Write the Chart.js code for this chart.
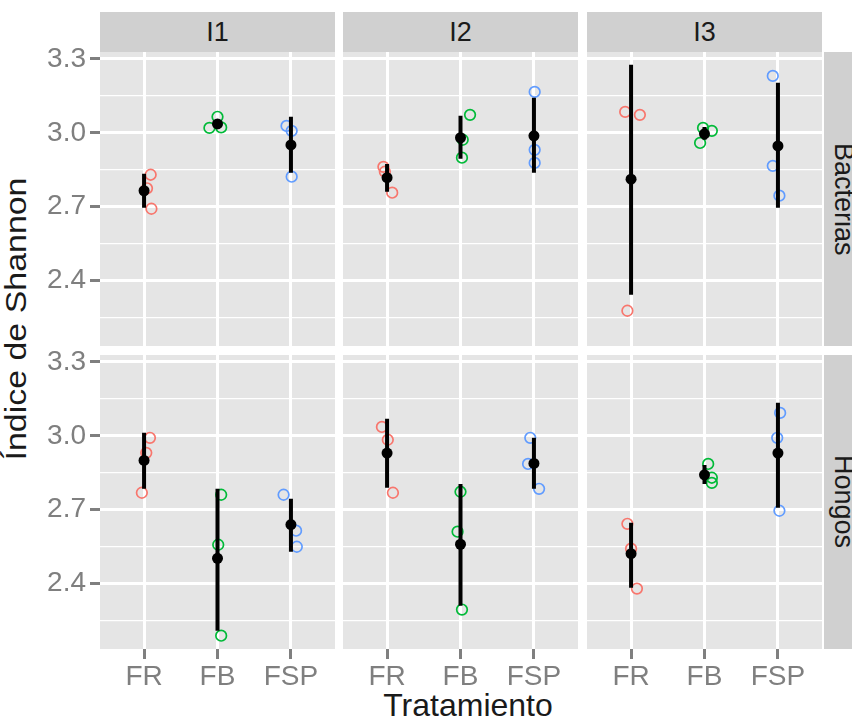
<!DOCTYPE html>
<html>
<head>
<meta charset="utf-8">
<script src="https://cdn.jsdelivr.net/npm/chart.js@4.4.1/dist/chart.umd.min.js"></script>
<style>
	body { margin: 0; width: 852px; height: 719px; background: #fff; overflow: hidden; position: relative; font-family: 'Liberation Sans', Arial, sans-serif; }
	canvas { position: absolute; }
	.tira { position: absolute; background: #D0D0D0; color: #1A1A1A; font-size: 27px; display: flex; align-items: center; justify-content: center; }
	.tira.lado { writing-mode: vertical-rl; }
	.titulo { position: absolute; color: #1A1A1A; white-space: nowrap; line-height: 32px; }
</style>
</head>
<body>

<script>

var columnas = ['I1', 'I2', 'I3'];
var filas = ['Bacterias', 'Hongos'];
var tratamientos = ['FR', 'FB', 'FSP'];
var coloresTrat = ['#F8766D', '#00BA38', '#619CFF'];
var yMayores = [2.4, 2.7, 3.0, 3.3];
var yMenores = [2.25, 2.55, 2.85, 3.15];

// observaciones, [columna][tratamiento][repeticion]
var obsBacterias = [
	[[2.830, 2.775, 2.692], [3.065, 3.020, 3.022], [3.028, 3.008, 2.822]],
	[[2.862, 2.842, 2.757], [3.073, 2.972, 2.899], [3.166, 2.931, 2.878]],
	[[3.085, 3.073, 2.278], [3.020, 3.008, 2.959], [3.231, 2.866, 2.745]]
];
var obsHongos = [
	[[2.992, 2.931, 2.769], [2.761, 2.558, 2.189], [2.761, 2.615, 2.550]],
	[[3.036, 2.984, 2.769], [2.773, 2.611, 2.295], [2.992, 2.886, 2.785]],
	[[2.643, 2.542, 2.380], [2.886, 2.830, 2.809], [3.093, 2.992, 2.696]]
];
// desplazamiento horizontal (jitter) de cada observacion
var jitterBacterias = [
	[[0.09, 0.04, 0.10], [0.00, -0.11, 0.05], [-0.06, 0.01, 0.01]],
	[[-0.05, -0.03, 0.07], [0.13, 0.03, 0.02], [0.01, 0.01, 0.01]],
	[[-0.08, 0.12, -0.05], [-0.02, 0.10, -0.06], [-0.07, -0.07, 0.02]]
];
var jitterHongos = [
	[[0.08, 0.03, -0.03], [0.05, 0.01, 0.05], [-0.10, 0.07, 0.08]],
	[[-0.07, 0.01, 0.08], [0.00, -0.04, 0.02], [-0.05, -0.08, 0.07]],
	[[-0.05, 0.00, 0.08], [0.05, 0.10, 0.10], [0.03, -0.01, 0.02]]
];
// media y barra (inferior / superior), [columna][tratamiento]
var mediaBacterias = [[2.765, 3.036, 2.951], [2.818, 2.980, 2.988], [2.812, 2.996, 2.947]];
var infBacterias = [[2.696, 3.020, 2.838], [2.761, 2.895, 2.838], [2.343, 2.972, 2.696]];
var supBacterias = [[2.834, 3.052, 3.065], [2.874, 3.069, 3.142], [3.276, 3.024, 3.203]];
var mediaHongos = [[2.900, 2.503, 2.640], [2.930, 2.560, 2.888], [2.522, 2.842, 2.930]];
var infHongos = [[2.785, 2.209, 2.530], [2.789, 2.311, 2.785], [2.384, 2.805, 2.708]];
var supHongos = [[3.012, 2.785, 2.745], [3.069, 2.805, 2.992], [2.647, 2.882, 3.134]];

var yMin = 2.135, yMax = 3.328;

// maquetacion de los paneles
var panelX = [100, 343, 587];
var panelY = [52, 355];
var panelW = 235, panelH = 294;
var M = 20, EY = 60, EX = 45;
var fuente = "'Liberation Sans', Arial, sans-serif";

var fondoPanel = {
	id: 'fondoPanel',
	beforeDraw: function(chart){
		var a = chart.chartArea;
		chart.ctx.save();
		chart.ctx.fillStyle = '#E5E5E5';
		chart.ctx.fillRect(a.left, a.top, a.right - a.left, a.bottom - a.top);
		chart.ctx.restore();
	}
};

function esMayor(v){
	return yMayores.indexOf(v) >= 0;
}

function init_panel(r, c){

	var obs = r === 0 ? obsBacterias : obsHongos;
	var jit = r === 0 ? jitterBacterias : jitterHongos;
	var media = r === 0 ? mediaBacterias : mediaHongos;
	var inf = r === 0 ? infBacterias : infHongos;
	var sup = r === 0 ? supBacterias : supHongos;

	var canvas = document.createElement('canvas');
	var w = panelW + 2 * M + (c === 0 ? EY : 0);
	var h = panelH + 2 * M + (r === 1 ? EX : 0);
	canvas.width = w;
	canvas.height = h;
	canvas.style.left = (panelX[c] - M - (c === 0 ? EY : 0)) + 'px';
	canvas.style.top = (panelY[r] - M) + 'px';
	canvas.style.width = w + 'px';
	canvas.style.height = h + 'px';
	document.body.appendChild(canvas);

	var barra = [];
	tratamientos.forEach(function(t, i){
		barra.push({x: i, y: inf[c][i]});
		barra.push({x: i, y: sup[c][i]});
		barra.push({x: i, y: null});
	});

	var datasets = [
		{
			type: 'scatter',
			label: 'media',
			data: tratamientos.map(function(t, i){ return {x: i, y: media[c][i]}; }),
			pointRadius: 5.5,
			pointBorderWidth: 0,
			backgroundColor: '#000',
			borderColor: '#000'
		},
		{
			type: 'line',
			label: 'barra',
			data: barra,
			borderColor: '#000',
			borderWidth: 4,
			pointRadius: 0,
			spanGaps: false,
			fill: false
		}
	];
	tratamientos.forEach(function(t, i){
		datasets.push({
			type: 'scatter',
			label: t,
			data: obs[c][i].map(function(v, k){ return {x: i + jit[c][i][k], y: v}; }),
			pointRadius: 5.3,
			pointBorderWidth: 1.7,
			borderColor: coloresTrat[i],
			backgroundColor: 'rgba(0,0,0,0)'
		});
	});

	new Chart(canvas, {
		type: 'scatter',
		data: { datasets: datasets },
		plugins: [fondoPanel],
		options: {
			responsive: false,
			animation: false,
			layout: { padding: M },
			plugins: { legend: { display: false }, tooltip: { enabled: false } },
			scales: {
				x: {
					type: 'linear',
					min: -0.6,
					max: 2.6,
					border: { display: false },
					afterBuildTicks: function(s){ s.ticks = tratamientos.map(function(t, i){ return {value: i}; }); },
					afterFit: function(s){ s.height = r === 1 ? EX : 0; s.paddingLeft = 0; s.paddingRight = 0; },
					grid: { color: '#FFFFFF', lineWidth: 3, drawTicks: r === 1, tickLength: 10, tickColor: '#7F7F7F', tickWidth: 3 },
					ticks: {
						display: r === 1,
						autoSkip: false,
						maxRotation: 0,
						padding: 1,
						color: '#7F7F7F',
						font: { family: fuente, size: 28 },
						callback: function(v){ return tratamientos[v]; }
					}
				},
				y: {
					type: 'linear',
					min: yMin,
					max: yMax,
					border: { display: false },
					afterBuildTicks: function(s){
						s.ticks = yMenores.concat(yMayores).sort().map(function(v){ return {value: v}; });
					},
					afterFit: function(s){ s.width = c === 0 ? EY : 0; s.paddingTop = 0; s.paddingBottom = 0; },
					grid: {
						color: '#FFFFFF',
						lineWidth: function(ctx){ return esMayor(ctx.tick.value) ? 3 : 1.3; },
						drawTicks: c === 0,
						tickLength: 10,
						tickWidth: 3,
						tickColor: function(ctx){ return esMayor(ctx.tick.value) ? '#7F7F7F' : 'rgba(0,0,0,0)'; }
					},
					ticks: {
						display: c === 0,
						autoSkip: false,
						padding: 4,
						color: '#7F7F7F',
						font: { family: fuente, size: 28 },
						callback: function(v){ return esMayor(v) ? v.toFixed(1) : ''; }
					}
				}
			}
		}
	});
}

function init_tiras(){

	columnas.forEach(function(nombre, c){
		var d = document.createElement('div');
		d.className = 'tira';
		d.style.left = panelX[c] + 'px';
		d.style.top = '12px';
		d.style.width = panelW + 'px';
		d.style.height = '40px';
		d.textContent = nombre;
		document.body.appendChild(d);
	});

	filas.forEach(function(nombre, r){
		var d = document.createElement('div');
		d.className = 'tira lado';
		d.style.left = '824px';
		d.style.top = panelY[r] + 'px';
		d.style.width = '38px';
		d.style.height = panelH + 'px';
		d.textContent = nombre;
		document.body.appendChild(d);
	});

	var tx = document.createElement('div');
	tx.className = 'titulo';
	tx.style.fontSize = '32px';
	tx.style.left = '468px';
	tx.style.top = '689px';
	tx.style.transform = 'translateX(-50%)';
	tx.textContent = 'Tratamiento';
	document.body.appendChild(tx);

	var ty = document.createElement('div');
	ty.className = 'titulo';
	ty.style.fontSize = '29px';
	ty.style.left = '16px';
	ty.style.top = '319px';
	ty.style.transform = 'translate(-50%, -50%) rotate(-90deg) scaleX(1.17)';
	ty.textContent = 'Índice de Shannon';
	document.body.appendChild(ty);
}

init_tiras();
for (var r = 0; r < filas.length; r++){
	for (var c = 0; c < columnas.length; c++){
		init_panel(r, c);
	}
}

</script>
</body>
</html>
